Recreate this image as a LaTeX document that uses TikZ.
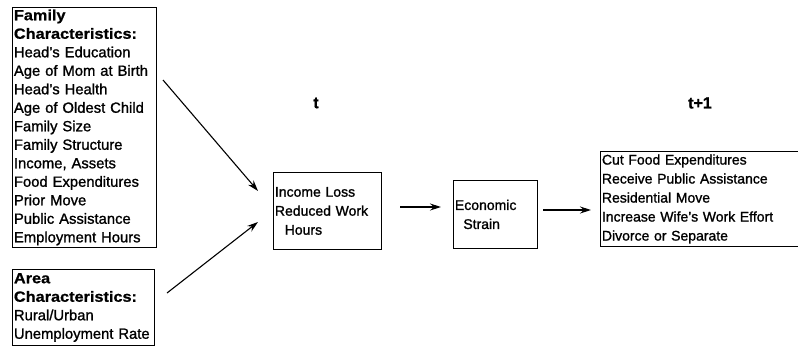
\documentclass[tikz,border=0pt]{standalone}
\usepackage{fontspec}
\setmainfont{Liberation Sans}[FakeBold=1.2]
\newfontfamily\hdrfont{Liberation Sans Bold}[FakeStretch=1.1,FakeBold=0.8]
\usetikzlibrary{arrows.meta}
\newcommand{\hdr}[1]{{\hdrfont #1}}
\begin{document}
\begin{tikzpicture}[x=1pt,y=-1pt,
  box/.style={draw, line width=0.9pt, anchor=north west, align=left, inner xsep=1.5pt, inner ysep=0.5pt},
  bigtxt/.style={font=\fontsize{14.8}{18.5}\selectfont},
  smtxt/.style={font=\fontsize{14}{19}\selectfont},
  arr/.style={line width=1.1pt, -{Stealth[length=11pt,width=7pt]}},
  lbl/.style={font=\fontsize{16}{18}\selectfont\bfseries}]
\useasboundingbox (0,0) rectangle (798,348);
\node[box, bigtxt, text width=141pt, minimum height=240pt] (fam) at (12,7) {%
\hdr{Family}\\\hdr{Characteristics:}\\Head's Education\\Age of Mom at Birth\\Head's Health\\Age of Oldest Child\\Family Size\\Family Structure\\Income, Assets\\Food Expenditures\\Prior Move\\Public Assistance\\Employment Hours};
\node[box, bigtxt, text width=139pt, minimum height=76pt] (area) at (12,269) {%
\hdr{Area}\\\hdr{Characteristics:}\\Rural/Urban\\Unemployment Rate};
\node[box, smtxt, text width=105pt, minimum height=77pt] (inc) at (273,172) {%
Income Loss\\Reduced Work\\\hspace*{0.7em}Hours};
\node[box, smtxt, text width=81pt, minimum height=68pt] (eco) at (453,180) {%
Economic\\\hspace*{0.6em}Strain};
\node[box, smtxt, text width=200pt, minimum height=95pt] (out) at (600,151) {%
Cut Food Expenditures\\Receive Public Assistance\\Residential Move\\Increase Wife's Work Effort\\Divorce or Separate};
\node[lbl] (t) at (316,103) {t};
\node[lbl] (t1) at (700,103) {t+1};
\coordinate (a1s) at (163,80);
\coordinate (a1e) at (258,191);
\coordinate (a2s) at (167,293);
\coordinate (a2e) at (258,222);
\coordinate (a3s) at (400,207);
\coordinate (a3e) at (441,207);
\coordinate (a4s) at (543,210);
\coordinate (a4e) at (591,210);
\draw[arr] (a1s) -- (a1e);
\draw[arr] (a2s) -- (a2e);
\draw[arr] (a3s) -- (a3e);
\draw[arr] (a4s) -- (a4e);
\end{tikzpicture}
\end{document}
